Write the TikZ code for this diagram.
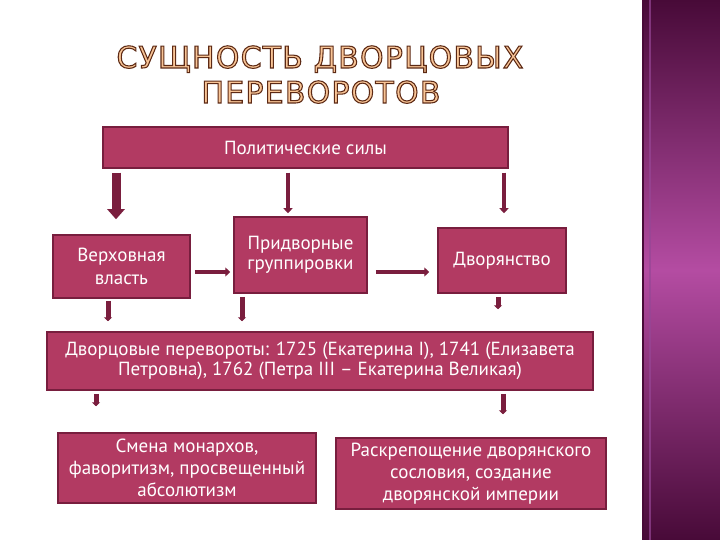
\documentclass[tikz,border=0pt]{standalone}
\usepackage{fontspec}
\setmainfont{PT Sans}
\newfontfamily\titlefont[LetterSpace=4,RawFeature={embolden=3.5}]{DejaVu Sans}
\usetikzlibrary{arrows.meta,calc}
\definecolor{boxfill}{RGB}{178,58,98}
\definecolor{boxedge}{RGB}{120,30,62}
\definecolor{arrowc}{RGB}{122,30,62}
\definecolor{titlefill}{RGB}{248,196,150}
\definecolor{stripdark}{RGB}{72,10,56}
\definecolor{stripmid}{RGB}{180,76,162}
\definecolor{stripline}{RGB}{150,70,150}
\newcommand{\outlinetext}[1]{\textcolor{titlefill}{\special{pdf:code 0.36 0.16 0.08 RG}#1}}
\begin{document}
\begin{tikzpicture}[x=1pt,y=-1pt,
 box/.style={draw=boxedge, line width=1.5pt, fill=boxfill, text=white,
   font=\fontsize{19}{23}\selectfont, align=center, inner sep=0pt},
 arr/.style={draw=arrowc, line width=4pt, -{Triangle[length=5pt,width=9pt]}},
 stub/.style={draw=arrowc, line width=5pt, -{Triangle[length=4pt,width=8pt]}},
 bigarr/.style={draw=arrowc, line width=9pt, -{Triangle[length=10pt,width=17pt]}},
 ttl/.style={anchor=base, font=\titlefont\fontsize{30}{36}\selectfont, inner sep=0pt}
]
\useasboundingbox (0,0) rectangle (720,540);
\fill[white] (0,0) rectangle (720,540);
\shade[top color=stripdark, bottom color=stripdark, middle color=stripmid] (642,0) rectangle (720,540);
\draw[stripdark, line width=2pt] (643,0) -- (643,540);
\draw[stripline, line width=1.5pt, opacity=0.7] (650,0) -- (650,540);

\node[ttl] (t1) at (320,68) {\outlinetext{СУЩНОСТЬ ДВОРЦОВЫХ}};
\node[ttl] (t2) at (321,103) {\outlinetext{ПЕРЕВОРОТОВ}};

\node[box, minimum width=405pt, minimum height=41pt] (top) at (305.5,147.5) {Политические силы};
\node[box, minimum width=137pt, minimum height=63pt] (verh) at (121.5,266.5) {Верховная\\власть};
\node[box, minimum width=133pt, minimum height=76pt, font=\fontsize{19}{20}\selectfont] (prid) at (300.5,255) {Придворные\\группировки};
\node[box, minimum width=128pt, minimum height=65pt] (dvor) at (502,260.5) {Дворянство};
\node[box, minimum width=546pt, minimum height=58pt, font=\fontsize{19}{20}\selectfont] (big) at (320,361)
  {Дворцовые перевороты: 1725 (Екатерина I), 1741 (Елизавета\\Петровна), 1762 (Петра III – Екатерина Великая)};
\node[box, minimum width=258pt, minimum height=70pt, font=\fontsize{19}{22}\selectfont] (smena) at (187,468)
  {Смена монархов,\\фаворитизм, просвещенный\\абсолютизм};
\node[box, minimum width=270pt, minimum height=71pt, font=\fontsize{19}{22}\selectfont] (rask) at (471,473.5)
  {Раскрепощение дворянского\\сословия, создание\\дворянской империи};

\draw[bigarr] ([xshift=-189.5pt,yshift=-4pt]top.south) -- ([xshift=-5.5pt,yshift=15pt]verh.north);
\draw[arr] ([xshift=-17.5pt,yshift=-4pt]top.south) -- ([xshift=-12.5pt,yshift=3pt]prid.north);
\draw[arr] ([xshift=198.5pt,yshift=-4pt]top.south) -- ([xshift=2pt,yshift=14pt]dvor.north);
\draw[arr] ([xshift=4pt,yshift=-5.5pt]verh.east) -- ([xshift=-3pt,yshift=-17pt]prid.west);
\draw[arr] ([xshift=8pt,yshift=-17pt]prid.east) -- ([xshift=-8pt,yshift=-11.5pt]dvor.west);
\draw[stub] ([xshift=-13.5pt,yshift=-2pt]verh.south) -- ([xshift=-212pt,yshift=10pt]big.north);
\draw[stub] ([xshift=-58.5pt,yshift=-3pt]prid.south) -- ([xshift=-78pt,yshift=10pt]big.north);
\draw[stub] ([xshift=-4pt,yshift=-3pt]dvor.south) -- ([xshift=178pt,yshift=22pt]big.north);
\draw[stub] ([xshift=-224pt,yshift=-3pt]big.south) -- ([xshift=-91pt,yshift=26pt]smena.north);
\draw[stub] ([xshift=183pt,yshift=-3pt]big.south) -- ([xshift=32pt,yshift=23pt]rask.north);
\end{tikzpicture}
\end{document}
